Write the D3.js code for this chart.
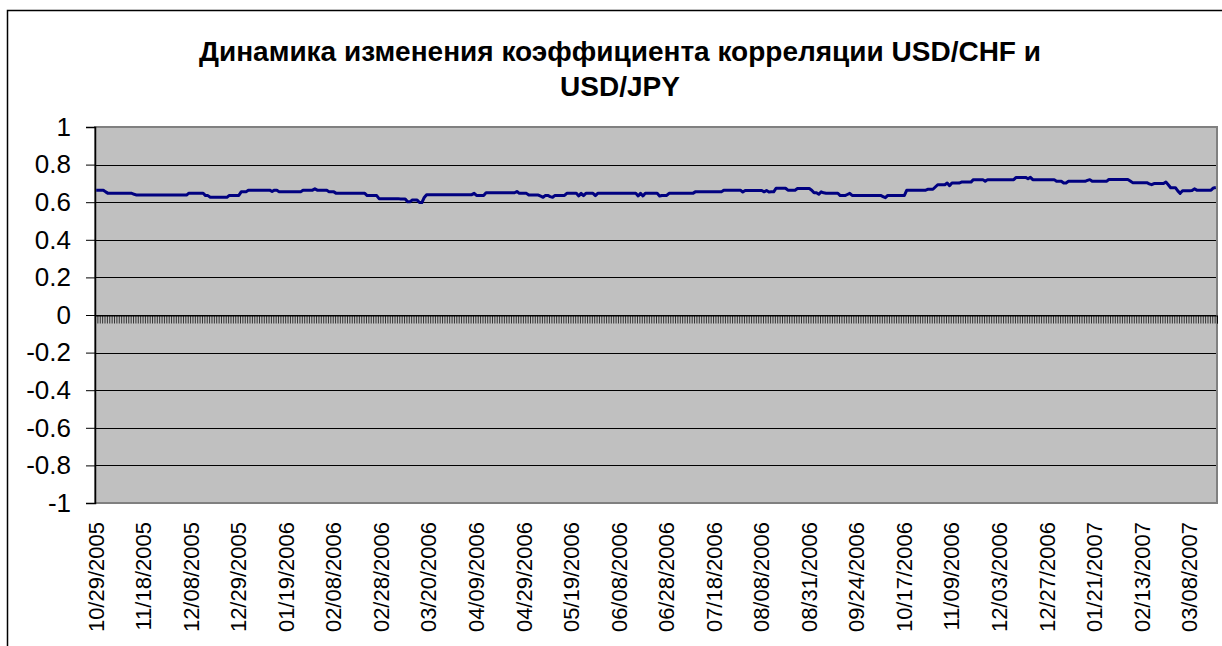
<!DOCTYPE html>
<html>
<head>
<meta charset="utf-8">
<script src="https://cdn.jsdelivr.net/npm/d3@7"></script>
<style>
  html, body { margin: 0; padding: 0; background: #fff; }
  svg { display: block; }
</style>
</head>
<body>
<svg id="chart" width="1222" height="646"></svg>
<script>
const titleLines = ["Динамика изменения коэффициента корреляции USD/CHF и", "USD/JPY"];

// Category labels shown on the axis (every 20th trading day)
const dateLabels = [
  "10/29/2005", "11/18/2005", "12/08/2005", "12/29/2005", "01/19/2006", "02/08/2006",
  "02/28/2006", "03/20/2006", "04/09/2006", "04/29/2006", "05/19/2006", "06/08/2006",
  "06/28/2006", "07/18/2006", "08/08/2006", "08/31/2006", "09/24/2006", "10/17/2006",
  "11/09/2006", "12/03/2006", "12/27/2006", "01/21/2007", "02/13/2007", "03/08/2007"
];
const labelEvery = 20;

const yTicks = [1, 0.8, 0.6, 0.4, 0.2, 0, -0.2, -0.4, -0.6, -0.8, -1];
const yTickLabels = ["1", "0.8", "0.6", "0.4", "0.2", "0", "-0.2", "-0.4", "-0.6", "-0.8", "-1"];

// Correlation coefficient USD/CHF vs USD/JPY, one value per category
const correlation = [
  0.664, 0.664, 0.664, 0.664, 0.655,
  0.647, 0.647, 0.647, 0.647, 0.647, 0.647, 0.647, 0.647, 0.647, 0.647, 0.647,
  0.642,
  0.638, 0.638, 0.638, 0.638, 0.638, 0.638, 0.638, 0.638, 0.638, 0.638, 0.638,
  0.638, 0.638, 0.638, 0.638, 0.638, 0.638, 0.638, 0.638, 0.638, 0.638, 0.638,
  0.648, 0.648, 0.648, 0.648, 0.648, 0.648, 0.648,
  0.635, 0.635,
  0.626, 0.626, 0.626, 0.626, 0.626, 0.626, 0.626, 0.626,
  0.636, 0.636, 0.636, 0.636, 0.636,
  0.655, 0.655, 0.655,
  0.664, 0.664, 0.664, 0.664, 0.664, 0.664, 0.664, 0.664, 0.664, 0.664,
  0.657, 0.664, 0.664,
  0.655, 0.655, 0.655, 0.655, 0.655, 0.655, 0.655, 0.655, 0.655, 0.655,
  0.664, 0.664, 0.664, 0.664, 0.664, 0.671, 0.664, 0.664, 0.664, 0.664, 0.664,
  0.655, 0.655, 0.655,
  0.647, 0.647, 0.647, 0.647, 0.647, 0.647, 0.647, 0.647, 0.647, 0.647, 0.647, 0.647, 0.647,
  0.635, 0.635, 0.635, 0.635, 0.635,
  0.619, 0.619, 0.619, 0.619, 0.619, 0.619, 0.619, 0.619, 0.619,
  0.617, 0.617, 0.617, 0.602, 0.602, 0.612, 0.612, 0.612, 0.598, 0.598, 0.625,
  0.640, 0.640, 0.640, 0.640, 0.640, 0.640, 0.640, 0.640, 0.640, 0.640,
  0.640, 0.640, 0.640, 0.640, 0.640, 0.640, 0.640, 0.640, 0.640, 0.640,
  0.647, 0.636, 0.636, 0.636, 0.636,
  0.650, 0.650, 0.650, 0.650, 0.650, 0.650, 0.650, 0.650, 0.650, 0.650, 0.650, 0.650, 0.650,
  0.657, 0.647, 0.647, 0.647, 0.647,
  0.638, 0.638, 0.638, 0.638, 0.638, 0.632, 0.626, 0.636, 0.636, 0.630, 0.626,
  0.636, 0.636, 0.636, 0.636, 0.636,
  0.647, 0.647, 0.647, 0.647, 0.647,
  0.633, 0.647, 0.635, 0.647, 0.647, 0.647, 0.647, 0.635,
  0.647, 0.647, 0.647, 0.647, 0.647, 0.647, 0.647, 0.647, 0.647, 0.647,
  0.647, 0.647, 0.647, 0.647, 0.647, 0.647, 0.647,
  0.633, 0.647, 0.633, 0.647, 0.647, 0.647, 0.647, 0.647, 0.647, 0.633,
  0.636, 0.636, 0.636,
  0.647, 0.647, 0.647, 0.647, 0.647, 0.647, 0.647, 0.647, 0.647, 0.647, 0.647,
  0.655, 0.655, 0.655, 0.655, 0.655, 0.655, 0.655, 0.655, 0.655, 0.655, 0.655, 0.655,
  0.664, 0.664, 0.664, 0.664, 0.664, 0.664, 0.664, 0.664,
  0.654, 0.662, 0.662, 0.662, 0.662, 0.662, 0.662, 0.662, 0.662,
  0.655, 0.662, 0.654, 0.655, 0.655,
  0.674, 0.674, 0.674, 0.674, 0.674,
  0.664, 0.664, 0.664, 0.664,
  0.673, 0.673, 0.673, 0.673, 0.673, 0.673, 0.664,
  0.650, 0.650, 0.642, 0.655, 0.650,
  0.648, 0.648, 0.648, 0.648, 0.648, 0.648,
  0.635, 0.635, 0.635, 0.641, 0.647,
  0.636, 0.636, 0.636, 0.636, 0.636, 0.636, 0.636, 0.636, 0.636, 0.636, 0.636, 0.636, 0.636,
  0.630, 0.624,
  0.636, 0.636, 0.636, 0.636, 0.636, 0.636, 0.636, 0.636,
  0.664, 0.664, 0.664, 0.664, 0.664, 0.664, 0.664, 0.664, 0.664,
  0.669, 0.669, 0.669, 0.681, 0.693, 0.693, 0.693, 0.693, 0.702, 0.688,
  0.702, 0.702, 0.702, 0.702,
  0.707, 0.707, 0.707, 0.707, 0.707,
  0.720, 0.720, 0.720, 0.720, 0.720, 0.711,
  0.720, 0.720, 0.720, 0.720, 0.720, 0.720, 0.720, 0.720, 0.720, 0.720, 0.720, 0.720,
  0.732, 0.732, 0.732, 0.732, 0.732, 0.725, 0.733, 0.720,
  0.720, 0.720, 0.720, 0.720, 0.720, 0.720, 0.720, 0.720, 0.720,
  0.711, 0.711, 0.711, 0.702, 0.702,
  0.711, 0.711, 0.711, 0.711, 0.711, 0.711, 0.711, 0.711,
  0.716, 0.720,
  0.711, 0.711, 0.711, 0.711, 0.711, 0.711, 0.711,
  0.721, 0.721, 0.721, 0.721, 0.721, 0.721, 0.721, 0.721, 0.721,
  0.713, 0.704, 0.704, 0.704, 0.704, 0.704, 0.704, 0.704,
  0.698, 0.693, 0.699, 0.699, 0.699, 0.699, 0.699,
  0.707, 0.693, 0.677, 0.677, 0.677, 0.660, 0.647,
  0.661, 0.661, 0.661, 0.661, 0.662, 0.671,
  0.664, 0.664, 0.664, 0.664, 0.664, 0.664, 0.664,
  0.676, 0.678
];

const W = 1222, H = 646;
const plot = { left: 95, top: 127, right: 1217, bottom: 503 };
const svg = d3.select("#chart");
const FONT = "'Liberation Sans', Arial, sans-serif";

// outer chart frame (extends past the right/bottom edge as in the reference)
svg.append("rect")
  .attr("x", 7.5).attr("y", 10.5)
  .attr("width", W + 20).attr("height", H + 20)
  .attr("fill", "#fff").attr("stroke", "#000").attr("stroke-width", 1.5);

const n = correlation.length;
const xb = d3.scaleLinear().domain([0, n]).range([plot.left, plot.right]);
const y = d3.scaleLinear().domain([-1, 1]).range([plot.bottom, plot.top]);

// plot background
svg.append("rect")
  .attr("x", plot.left).attr("y", plot.top)
  .attr("width", plot.right - plot.left).attr("height", plot.bottom - plot.top)
  .attr("fill", "#c0c0c0");

// gridlines
svg.append("g")
  .selectAll("line")
  .data(yTicks.filter(v => v > -1 && v < 1))
  .join("line")
  .attr("x1", plot.left).attr("x2", plot.right)
  .attr("y1", d => Math.round(y(d)) + 0.5).attr("y2", d => Math.round(y(d)) + 0.5)
  .attr("stroke", "#000").attr("stroke-width", 1);

// plot border (gray)
svg.append("rect")
  .attr("x", plot.left).attr("y", plot.top)
  .attr("width", plot.right - plot.left).attr("height", plot.bottom - plot.top)
  .attr("fill", "none").attr("stroke", "#808080").attr("stroke-width", 2);

// y axis
const yAxis = d3.axisLeft(y).tickValues(yTicks).tickSize(9).tickPadding(15)
  .tickFormat((d, i) => yTickLabels[i]);
const gy = svg.append("g").attr("transform", `translate(${plot.left},0)`).call(yAxis);
gy.select(".domain").attr("stroke", "#000").attr("stroke-width", 1.5);
gy.selectAll(".tick line").attr("stroke", "#000").attr("stroke-width", 1);
gy.selectAll(".tick text")
  .attr("font-family", FONT).attr("font-size", 26).attr("fill", "#000");

// category axis at y = 0, with tick marks between categories
const xAxis = d3.axisBottom(xb).tickValues(d3.range(n + 1)).tickSize(8).tickFormat("");
const gx = svg.append("g").attr("transform", `translate(0,${Math.round(y(0)) + 0.5})`).call(xAxis);
gx.select(".domain").attr("stroke", "#000").attr("stroke-width", 1);
gx.selectAll(".tick line").attr("stroke", "#000").attr("stroke-width", 1).attr("opacity", 0.75);

// category labels along the bottom
svg.append("g")
  .selectAll("text")
  .data(dateLabels)
  .join("text")
  .attr("transform", (d, k) => `translate(${xb(k * labelEvery + 0.5) + 7.5},${plot.bottom + 19}) rotate(-90)`)
  .attr("text-anchor", "end")
  .attr("font-family", FONT).attr("font-size", 22).attr("fill", "#000")
  .text(d => d);

// series line
const line = d3.line()
  .x((d, i) => xb(i + 0.5))
  .y(d => y(d));
svg.append("path")
  .datum(correlation)
  .attr("d", line)
  .attr("fill", "none")
  .attr("stroke", "#000080")
  .attr("stroke-width", 3)
  .attr("stroke-linejoin", "round");

// title
svg.append("g")
  .selectAll("text")
  .data(titleLines)
  .join("text")
  .attr("x", 620)
  .attr("y", (d, i) => 61 + i * 35)
  .attr("text-anchor", "middle")
  .attr("font-family", FONT).attr("font-size", 28).attr("font-weight", "bold").attr("fill", "#000")
  .text(d => d);
</script>
</body>
</html>
